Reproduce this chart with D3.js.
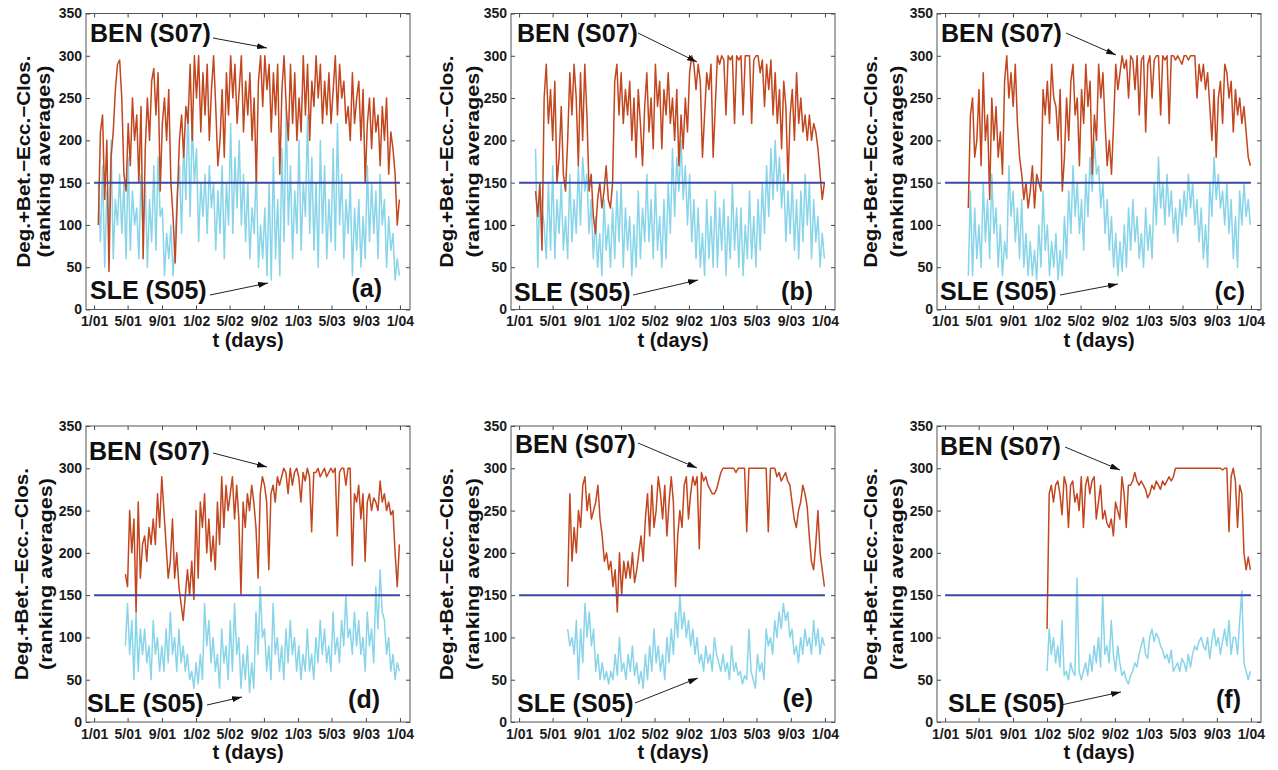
<!DOCTYPE html>
<html><head><meta charset="utf-8">
<script src="https://cdn.jsdelivr.net/npm/d3@7"></script>
<style>
body{margin:0;background:#fff;}
svg{display:block;font-family:"Liberation Sans",Arial,Helvetica,sans-serif;font-weight:bold;}
</style></head><body>
<svg id="chart" width="1278" height="770"></svg>
<script>
// ---------------- data ----------------
const panelLabels = ["(a)","(b)","(c)","(d)","(e)","(f)"];
const benName = "BEN (S07)";
const sleName = "SLE (S05)";
const yTitle1 = "Deg.+Bet.\u2212Ecc.\u2212Clos.";
const yTitle2 = "(ranking averages)";
const xTitle = "t (days)";
const xTickLabels = ["1/01","5/01","9/01","1/02","5/02","9/02","1/03","5/03","9/03","1/04"];
const xTickMonths = [0,4,8,12,16,20,24,28,32,36];   // months after Jan 2001
const yTickValues = [0,50,100,150,200,250,300,350];
const threshold = 150;
const thresholdSpan = [0,1095];                    // days
// first observation day (days after 1/1/2001) of each panel; last day common
const startDays = [15,59,83,112,174,365];
const endDay = 1093;

const benA = [100,210, 230,130,200,45, 180,210,260,290, 295,250,160,140, 220,170,250,200, 230,150,240,60,
 190,250,200,270, 285,230,280,140, 220,250,200,260, 150,110,55,130, 200,230,180,240, 220,290,200,300,
 250,300,210,280, 230,290,200,260, 300,240,170,200, 260,180,280,230, 300,250,290,220, 260,300,210,270,
 230,280,200,250, 150,270,300,240, 300,260,290,210, 280,230,290,160, 260,300,240,200, 290,220,280,200,
 250,210,300,230, 290,200,270,240, 300,250,290,220, 270,230,280,220, 260,300,230,290, 250,270,220,240,
 200,280,220,250, 270,200,260,150, 220,250,190,250, 210,230,170,240, 200,250,160,210, 190,160,100,130];
const sleA = [150,80, 170,50,140,90, 200,60,130,100, 160,90,150,60, 180,70,140,100, 120,60,160,90,
 150,50,130,80, 170,70,180,110, 120,40,90,60, 100,40,80,140, 170,90,200,130, 240,110,220,150,
 190,80,150,110, 160,90,170,120, 150,70,140,90, 170,60,150,100, 220,90,180,120, 200,100,160,80,
 150,60,120,90, 170,50,100,60, 120,40,150,35, 180,60,130,40, 190,80,240,100, 170,60,140,90,
 200,70,150,110, 230,90,180,70, 150,50,200,90, 170,60,130,80, 190,70,220,100, 160,60,130,90,
 150,40,120,70, 130,50,110,60, 170,80,150,90, 140,60,160,100, 130,50,110,70, 90,35,60,40];

const benB = [140,110,150,70, 250,290,220,260, 200,270,150,180, 240,160,140,200, 280,230,290,250,
 170,280,200,290, 230,140,160,110, 90,130,150,120, 140,170,130,120, 150,270,290,230, 280,220,260,230,
 270,200,250,180, 260,220,170,240, 280,210,250,190, 290,240,270,190, 260,230,280,220, 250,200,260,170,
 230,190,250,210, 280,300,290,260, 290,270,180,230, 280,260,290,180, 240,300,290,300, 295,230,300,295,
 300,220,300,295, 300,230,300,300, 300,220,295,300, 300,280,295,240, 290,260,295,230, 280,220,260,190,
 270,240,150,230, 260,200,280,220, 250,210,230,200, 230,200,220,210, 190,160,130,150];
const sleB = [190,50,140,120, 100,60,150,70, 170,60,130,90, 150,70,110,60, 160,80,130,90,
 170,100,180,140, 160,90,130,60, 110,50,90,40, 130,70,100,50, 120,60,140,80, 150,50,120,70,
 110,40,100,50, 140,60,120,80, 160,80,130,60, 150,70,110,50, 130,60,150,90, 190,110,180,140,
 200,130,170,100, 160,80,130,60, 120,50,90,40, 130,60,110,50, 140,50,120,70, 130,40,110,60,
 150,70,120,50, 120,40,100,60, 140,60,110,50, 130,70,150,90, 170,110,190,130, 200,140,180,120,
 160,80,140,90, 150,70,130,60, 140,80,160,100, 150,60,130,80, 110,50,90,60];

const benC = [120, 230,250,180,200, 260,170,280,200, 230,130,250,200, 240,180,210,160, 270,300,250,280,
 240,290,220,180, 160,130,150,120, 140,170,120,160, 150,140,260,230, 270,220,290,250, 240,200,260,140,
 180,250,200,270, 290,230,250,170, 260,220,290,240, 270,160,230,200, 290,250,280,220, 170,200,160,220,
 290,260,280,300, 285,295,250,300, 295,260,300,230, 295,300,210,290, 300,250,295,300, 300,230,300,295,
 300,220,300,300, 295,300,295,290, 300,300,295,300, 300,300,250,290, 270,290,260,280, 240,200,260,180,
 250,270,220,290, 280,250,270,210, 260,230,250,220, 240,210,180,170];
const sleC = [40, 140,40,120,60, 100,50,150,80, 130,60,160,90, 120,50,100,40, 80,60,170,110,
 140,80,120,60, 130,50,90,40, 80,40,70,35, 100,50,140,70, 100,40,80,50, 90,35,70,40,
 110,60,140,90, 170,110,150,90, 130,70,160,110, 180,140,200,160, 170,120,150,90, 130,70,110,50,
 90,40,80,45, 100,50,120,70, 130,80,110,60, 90,50,120,70, 100,60,150,100, 180,120,150,100,
 160,110,140,90, 120,80,130,100, 140,110,160,120, 150,100,130,80, 120,60,100,50, 150,110,180,130,
 160,120,140,100, 150,90,130,60, 110,50,140,100, 150,110,130,100];

const benD = [175, 160,250,200,240, 130,260,170,210, 220,190,230,210, 240,210,270,230, 290,250,210,170,
 190,240,170,200, 160,140,120,150, 180,150,190,145, 250,170,260,230, 270,200,240,190, 220,180,260,210,
 290,230,280,250, 270,290,240,280, 240,150,260,230, 270,250,280,260, 230,170,270,290, 280,260,180,270,
 280,260,290,280, 290,300,295,270, 300,280,295,300, 290,260,295,285, 300,290,225,295, 295,300,290,295,
 300,290,295,300, 295,300,220,295, 300,300,280,300, 300,185,270,260, 280,240,270,190, 260,270,250,265,
 260,250,285,260, 270,250,260,245, 250,200,160,210];
const sleD = [90, 140,80,120,50, 130,60,110,80, 110,70,90,50, 120,80,100,60, 90,60,110,70,
 130,80,100,60, 110,70,90,60, 80,50,60,40, 70,45,80,50, 140,90,120,70, 100,60,80,40,
 110,70,90,50, 120,60,140,80, 100,40,80,50, 90,35,70,40, 130,80,160,100, 110,60,90,50,
 140,80,100,60, 90,50,110,70, 120,80,100,60, 90,50,80,60, 110,60,80,50, 100,70,120,80,
 110,70,90,60, 130,80,100,70, 120,90,150,100, 110,80,130,90, 120,80,100,60, 130,90,110,70,
 160,110,180,130, 120,80,100,60, 80,50,70,60];

const benE = [160,270,190,230, 200,250,230,280, 290,250,270,240, 250,260,280,240, 220,190,200,180,
 190,160,180,130, 200,150,190,170, 190,170,200,165, 180,200,220,190, 240,270,220,280, 230,250,290,270,
 240,280,220,260, 290,260,160,220, 250,230,280,290, 240,270,290,280, 290,205,295,285, 290,280,275,270,
 270,275,285,295, 300,300,300,300, 300,300,295,300, 300,300,300,225, 300,300,300,300, 300,300,300,300,
 300,225,300,300, 300,290,295,285, 290,295,285,280, 260,240,230,250, 260,280,270,255, 220,190,180,210,
 250,200,180,160];
const sleE = [110,90,100,80, 120,50,110,70, 140,100,130,90, 110,60,80,50, 70,50,60,45,
 60,50,80,55, 100,60,70,50, 80,60,90,55, 70,45,60,40, 80,50,90,60, 110,70,90,60,
 80,50,100,70, 110,80,130,100, 150,110,130,100, 120,90,110,80, 100,70,80,60, 90,70,80,60,
 100,80,70,60, 80,60,70,50, 90,60,70,55, 60,45,55,50, 110,60,50,40, 80,60,70,50,
 110,90,100,80, 120,100,130,110, 140,120,130,100, 110,80,90,70, 100,80,110,90, 100,80,120,90,
 110,80,100,90];

const benF = [110,270,280,260, 280,285,270,245, 290,280,230,280, 285,260,270,250, 290,230,280,290,
 270,285,290,240, 260,280,240,250, 235,230,240,220, 260,250,240,290, 270,230,280,280,
 285,295,285,280, 285,280,275,265, 270,280,275,285, 280,275,285,280, 285,290,285,290,
 300,300,300,300, 300,300,300,300, 300,300,300,300, 300,300,300,300, 300,300,300,300,
 300,300,298,300, 300,225,290,300, 285,230,280,270, 200,180,195,180];
const sleF = [60,110,80,100, 70,90,65,120, 55,60,50,70, 60,55,170,60, 50,60,70,55,
 80,60,90,70, 100,65,150,80, 90,70,120,80, 60,90,70,55, 60,50,45,55,
 60,70,65,80, 90,100,80,75, 100,110,95,105, 100,90,85,75, 80,70,85,60,
 65,70,60,75, 70,60,80,65, 80,90,85,95, 100,90,85,100, 75,95,110,90,
 100,80,95,110, 90,120,80,100, 100,80,120,155, 70,60,50,60];

const benSeries = [benA,benB,benC,benD,benE,benF];
const sleSeries = [sleA,sleB,sleC,sleD,sleE,sleF];

// ---------------- layout ----------------
const W = 324, H = 296;
const boxes = [{x:86,y:13.5},{x:511,y:13.5},{x:937,y:13.5},{x:86,y:426},{x:511,y:426},{x:937,y:426}];
const xDomain = [-29,1131];
const ann = [
 {ben:[4,28.5], benA:[127,24.5,181,34.5], sle:[4,285.5], sleA:[124,281.5,182,269.5], lab:[296,283.5], yt:[-62,-42]},
 {ben:[6,28.5], benA:[127,19.5,186,48.5], sle:[3,287.5], sleA:[122,281.5,187,266.5], lab:[302,286], yt:[-64,-38]},
 {ben:[4,28.5], benA:[129,19.5,179,41.5], sle:[3,286.5], sleA:[123,281.5,181,270.5], lab:[308,286], yt:[-66,-40]},
 {ben:[3,34], benA:[127,27,181,41], sle:[1,286], sleA:[121,279,156,271], lab:[294,282], yt:[-64,-40]},
 {ben:[4,27], benA:[127,17,186,42], sle:[6,286], sleA:[124,277,187,252], lab:[302,281], yt:[-64,-38]},
 {ben:[3,29], benA:[128,21,183,44], sle:[11,286], sleA:[124,279,184,266], lab:[304,282], yt:[-66,-40]}
];
const benColor = "#c2461e", sleColor = "#88d4e9", thrColor = "#3a4aa3";

const day0 = Date.UTC(2001,0,1);
const xTickDays = xTickMonths.map(m => d3.utcDay.count(new Date(day0), new Date(Date.UTC(2001,m,1))));

const svg = d3.select("#chart");
svg.append("rect").attr("width",1278).attr("height",770).attr("fill","#fff");
svg.append("defs").append("marker").attr("id","ah")
  .attr("viewBox","0 0 10 6").attr("refX",10).attr("refY",3)
  .attr("markerWidth",10).attr("markerHeight",6).attr("markerUnits","userSpaceOnUse")
  .attr("orient","auto")
  .append("path").attr("d","M0,0L10,3L0,6Z").attr("fill","#111");

boxes.forEach((b,k) => {
  const g = svg.append("g").attr("transform",`translate(${b.x},${b.y})`);
  const x = d3.scaleLinear().domain(xDomain).range([0,W]);
  const y = d3.scaleLinear().domain([0,350]).range([H,0]);
  const pts = vals => vals.map((v,i) => ({d: startDays[k] + i*(endDay-startDays[k])/(vals.length-1), v}));
  const line = d3.line().x(d => x(d.d)).y(d => y(d.v));

  g.append("path").datum(pts(sleSeries[k])).attr("d",line)
    .attr("fill","none").attr("stroke",sleColor).attr("stroke-width",1.5).attr("stroke-linejoin","round");
  g.append("path").datum(pts(benSeries[k])).attr("d",line)
    .attr("fill","none").attr("stroke",benColor).attr("stroke-width",1.5).attr("stroke-linejoin","round");
  g.append("line").attr("x1",x(thresholdSpan[0])).attr("x2",x(thresholdSpan[1]))
    .attr("y1",y(threshold)).attr("y2",y(threshold))
    .attr("stroke",thrColor).attr("stroke-width",2);

  // axes (inward ticks on all sides)
  const styleAxis = sel => {
    sel.select(".domain").remove();
    sel.selectAll(".tick line").attr("stroke","#444");
    sel.selectAll(".tick text").attr("fill","#1a1a1a").style("font-size","14px").style("font-weight","bold")
      .style("font-family",'"Liberation Sans",Arial,sans-serif');
  };
  g.append("g").attr("transform",`translate(0,${H})`)
    .call(d3.axisBottom(x).tickValues(xTickDays).tickFormat((d,i)=>xTickLabels[i]).tickSizeInner(-4).tickSizeOuter(0).tickPadding(7))
    .call(styleAxis);
  g.append("g")
    .call(d3.axisTop(x).tickValues(xTickDays).tickFormat("").tickSizeInner(-4).tickSizeOuter(0))
    .call(styleAxis);
  g.append("g")
    .call(d3.axisLeft(y).tickValues(yTickValues).tickSizeInner(-4).tickSizeOuter(0).tickPadding(4))
    .call(styleAxis);
  g.append("g").attr("transform",`translate(${W},0)`)
    .call(d3.axisRight(y).tickValues(yTickValues).tickFormat("").tickSizeInner(-4).tickSizeOuter(0))
    .call(styleAxis);
  g.append("rect").attr("width",W).attr("height",H).attr("fill","none").attr("stroke","#555").attr("stroke-width",1);

  // titles
  const a = ann[k];
  g.append("text").attr("transform",`translate(${a.yt[0]},${H/2}) rotate(-90)`)
    .attr("text-anchor","middle").attr("dy","0.35em").style("font-size","18px").attr("fill","#111")
    .attr("textLength",212).attr("lengthAdjust","spacingAndGlyphs").text(yTitle1);
  g.append("text").attr("transform",`translate(${a.yt[1]},${H/2}) rotate(-90)`)
    .attr("text-anchor","middle").attr("dy","0.35em").style("font-size","18px").attr("fill","#111")
    .attr("textLength",192).attr("lengthAdjust","spacingAndGlyphs").text(yTitle2);
  g.append("text").attr("x",W/2).attr("y",H+37).attr("text-anchor","middle")
    .style("font-size","20px").attr("fill","#111").text(xTitle);

  // annotations
  g.append("text").attr("x",a.ben[0]).attr("y",a.ben[1]).style("font-size","25px").attr("fill","#111").text(benName);
  g.append("line").attr("x1",a.benA[0]).attr("y1",a.benA[1]).attr("x2",a.benA[2]).attr("y2",a.benA[3])
    .attr("stroke","#222").attr("stroke-width",1).attr("marker-end","url(#ah)");
  g.append("text").attr("x",a.sle[0]).attr("y",a.sle[1]).style("font-size","25px").attr("fill","#111").text(sleName);
  g.append("line").attr("x1",a.sleA[0]).attr("y1",a.sleA[1]).attr("x2",a.sleA[2]).attr("y2",a.sleA[3])
    .attr("stroke","#222").attr("stroke-width",1).attr("marker-end","url(#ah)");
  g.append("text").attr("x",a.lab[0]).attr("y",a.lab[1]).attr("text-anchor","end")
    .style("font-size","25px").attr("fill","#111").text(panelLabels[k]);
});
</script>
</body></html>
